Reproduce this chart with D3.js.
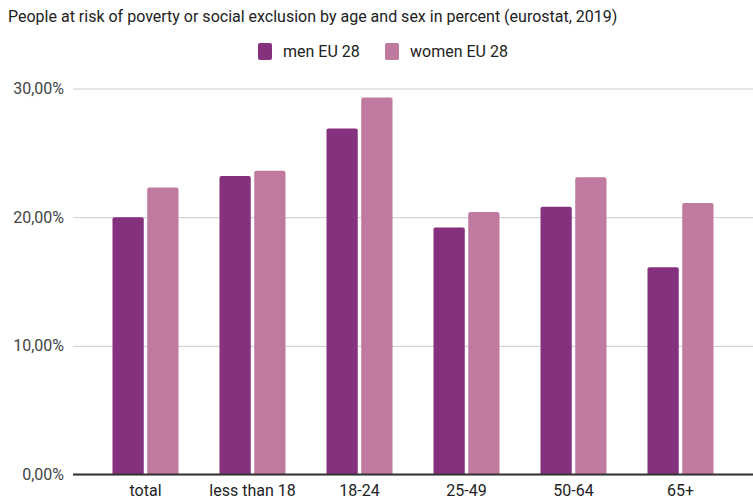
<!DOCTYPE html>
<html>
<head>
<meta charset="utf-8">
<script src="https://cdn.jsdelivr.net/npm/d3@7"></script>
<style>
  body { margin: 0; background: #fff; }
  text { font-family: Roboto, Arial, sans-serif; }
</style>
</head>
<body>
<div id="chart"></div>
<script>
'use strict';
// values
var categories = ['total', 'less than 18', '18-24', '25-49', '50-64', '65+'];
var seriesNames = ['men EU 28', 'women EU 28'];
var menValues = [20.0, 23.2, 26.9, 19.2, 20.8, 16.1];
var womenValues = [22.3, 23.6, 29.3, 20.4, 23.1, 21.1];
var tickValues = [0, 10, 20, 30];
var colors = ['#86317d', '#c17a9f'];

var width = 753, height = 501;

var svg = d3.select('#chart').append('svg')
  .attr('width', width)
  .attr('height', height);

var rows = categories.map(function(c, i) {
  return {cat: c, values: [menValues[i], womenValues[i]]};
});

var x0 = d3.scaleBand()
  .domain(categories)
  .range([92, 734])
  .paddingInner(0.383)
  .paddingOuter(0.1915);

var x1 = d3.scaleBand()
  .domain([0, 1])
  .range([0, x0.bandwidth()])
  .paddingInner(0.1);

var y = d3.scaleLinear()
  .domain([0, 30])
  .range([474.5, 88.5]);

// title
svg.append('text')
  .attr('x', 8)
  .attr('y', 22)
  .style('font-size', '16px')
  .style('fill', '#222')
  .text('People at risk of poverty or social exclusion by age and sex in percent (eurostat, 2019)');

// legend
var legend = svg.append('g');
var legendX = [258, 385];
seriesNames.forEach(function(name, i) {
  legend.append('rect')
    .attr('x', legendX[i])
    .attr('y', 43)
    .attr('width', 14)
    .attr('height', 17)
    .attr('rx', 2)
    .style('fill', colors[i]);
  legend.append('text')
    .attr('x', legendX[i] + 25)
    .attr('y', 57)
    .style('font-size', '16px')
    .style('fill', '#222')
    .text(name);
});

// gridlines + y labels
var yAxis = svg.append('g')
  .attr('transform', 'translate(73,0)')
  .call(d3.axisLeft(y)
    .tickValues(tickValues)
    .tickSize(-(width - 73))
    .tickPadding(9)
    .tickFormat(function(d) { return d3.format('.2f')(d).replace('.', ',') + '%'; }));
yAxis.select('.domain').remove();
yAxis.selectAll('line').style('stroke', '#cccccc');
yAxis.selectAll('text')
  .style('font-size', '16px')
  .style('fill', '#444')
  .attr('font-family', null);

// bars with rounded tops
function topRounded(x, yTop, w, h, r) {
  return 'M' + x + ',' + (yTop + h) +
    'V' + (yTop + r) +
    'Q' + x + ',' + yTop + ' ' + (x + r) + ',' + yTop +
    'H' + (x + w - r) +
    'Q' + (x + w) + ',' + yTop + ' ' + (x + w) + ',' + (yTop + r) +
    'V' + (yTop + h) + 'Z';
}

var groups = svg.selectAll('.group')
  .data(rows)
  .enter().append('g')
  .attr('class', 'group')
  .attr('transform', function(d) { return 'translate(' + x0(d.cat) + ',0)'; });

groups.selectAll('path')
  .data(function(d) { return d.values; })
  .enter().append('path')
  .attr('d', function(v, i) {
    return topRounded(x1(i), y(v), x1.bandwidth(), y(0) - y(v), 2);
  })
  .style('fill', function(v, i) { return colors[i]; });

// x axis
var xAxis = svg.append('g')
  .attr('transform', 'translate(0,' + y(0) + ')')
  .call(d3.axisBottom(x0).tickSize(0).tickPadding(10));
xAxis.select('.domain')
  .attr('d', 'M73,0H' + width)
  .style('stroke', '#333')
  .style('stroke-width', 2);
xAxis.selectAll('text')
  .style('font-size', '16px')
  .style('fill', '#222')
  .attr('font-family', null);
</script>
</body>
</html>
